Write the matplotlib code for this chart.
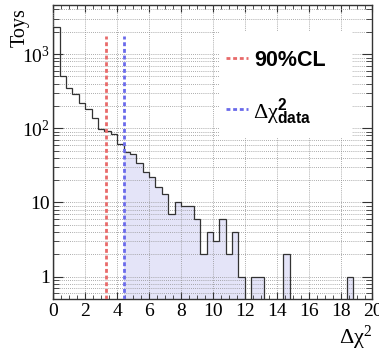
import numpy as np
import matplotlib
matplotlib.use("Agg")
import matplotlib.pyplot as plt
from matplotlib.ticker import FixedLocator, FixedFormatter, MultipleLocator, LogLocator, NullFormatter
from matplotlib.patches import Rectangle
from matplotlib.lines import Line2D

# toy Delta chi^2 distribution, 50 bins of 0.4 from 0 to 20
bin_edges = np.linspace(0, 20, 51)
toys = [2300, 510, 346, 287, 221, 180, 136, 98, 93, 84,
        61, 48, 45, 34, 26, 22, 16, 13, 7, 10,
        9, 9, 6, 2, 4, 3, 6, 2, 4, 1,
        0, 1, 1, 0, 0, 0, 2, 0, 0, 0,
        0, 0, 0, 0, 0, 0, 1, 0, 0, 0]
cl90 = 3.28
dchi2_data = 4.42
first_shaded_bin = 11
y_ticks = [1, 10, 100, 1000]
y_ticklabels = ["1", "10", "$10^{2}$", "$10^{3}$"]

plt.rcParams["mathtext.fontset"] = "custom"
plt.rcParams["mathtext.rm"] = "Liberation Serif"
plt.rcParams["mathtext.it"] = "Liberation Serif:italic"
plt.rcParams["mathtext.bf"] = "Liberation Sans:bold"
plt.rcParams["font.family"] = "Liberation Serif"

W, H = 379, 354
fig = plt.figure(figsize=(W / 100, H / 100), dpi=100)
ax = fig.add_axes([53.3 / W, 1 - 299 / H, (372.5 - 53.3) / W, (299 - 5.3) / H])

vals = np.array(toys, dtype=float)
vals = np.where(vals > 0, vals, 1e-3)

ax.stairs(vals[first_shaded_bin:], bin_edges[first_shaded_bin:], fill=True,
          baseline=1e-3, color="#e4e4f8", zorder=1)
ax.stairs(vals, bin_edges, baseline=1e-3, color="#333333", lw=0.9, zorder=3)

red = "#e86a6a"
blue = "#6a6aea"
dash = dict(lw=2.0, dashes=(1.4, 1.0), zorder=3)
ax.plot([cl90, cl90], [0.5, 1750], color=red, **dash)
ax.plot([dchi2_data, dchi2_data], [0.5, 1750], color=blue, **dash)

ax.set_yscale("log")
ax.set_xlim(0, 20)
ax.set_ylim(0.5, 4550)
ax.set_axisbelow(False)

ax.xaxis.set_major_locator(MultipleLocator(2))
ax.xaxis.set_minor_locator(MultipleLocator(0.5))
ax.yaxis.set_major_locator(FixedLocator(y_ticks))
ax.yaxis.set_major_formatter(FixedFormatter(y_ticklabels))
ax.yaxis.set_minor_locator(LogLocator(base=10, subs=np.arange(2, 10)))
ax.yaxis.set_minor_formatter(NullFormatter())

grid = dict(color="#909090", lw=0.6, linestyle=(0, (1, 1.5)))
ax.grid(True, which="major", axis="x", **grid)
ax.grid(True, which="both", axis="y", **grid)

ax.tick_params(which="both", direction="in", top=True, right=True,
               colors="#333333", labelcolor="black", labelsize=14)
ax.tick_params(axis="x", which="major", length=5, pad=3)
ax.tick_params(axis="x", which="minor", length=3)
ax.tick_params(axis="y", which="major", length=7.5, pad=2.5)
ax.tick_params(axis="y", which="minor", length=4)
for s in ax.spines.values():
    s.set_color("#333333")
    s.set_linewidth(1.0)

fig.text(20 / W, 1 - 8 / H, "Toys", rotation=90, ha="center", va="top", fontsize=14.5)
fig.text(372 / W, 1 - 352 / H, r"$\Delta\mathrm{\chi}^{2}$", ha="right", va="bottom", fontsize=16)

# legend area
fig.add_artist(Rectangle((220 / W, 1 - 138 / H), 132 / W, 107 / H,
                         transform=fig.transFigure, facecolor="white",
                         edgecolor="none", zorder=4))
fig.add_artist(Line2D([226 / W, 248 / W], [1 - 58.3 / H] * 2, color=red,
                      transform=fig.transFigure, lw=2.0, dashes=(1.4, 1.0), zorder=5))
fig.add_artist(Line2D([226 / W, 248 / W], [1 - 109.3 / H] * 2, color=blue,
                      transform=fig.transFigure, lw=2.0, dashes=(1.4, 1.0), zorder=5))
fig.text(254 / W, 1 - 60 / H, "90%CL", family="Liberation Sans", fontweight="bold",
         fontsize=15.5, va="center", ha="left", zorder=6)
fig.text(253 / W, 1 - 112 / H, r"$\Delta\mathrm{\chi}^{\mathbf{2}}_{\mathbf{data}}$",
         fontsize=16, va="center", ha="left", zorder=6)

fig.savefig("out.png", dpi=100)
